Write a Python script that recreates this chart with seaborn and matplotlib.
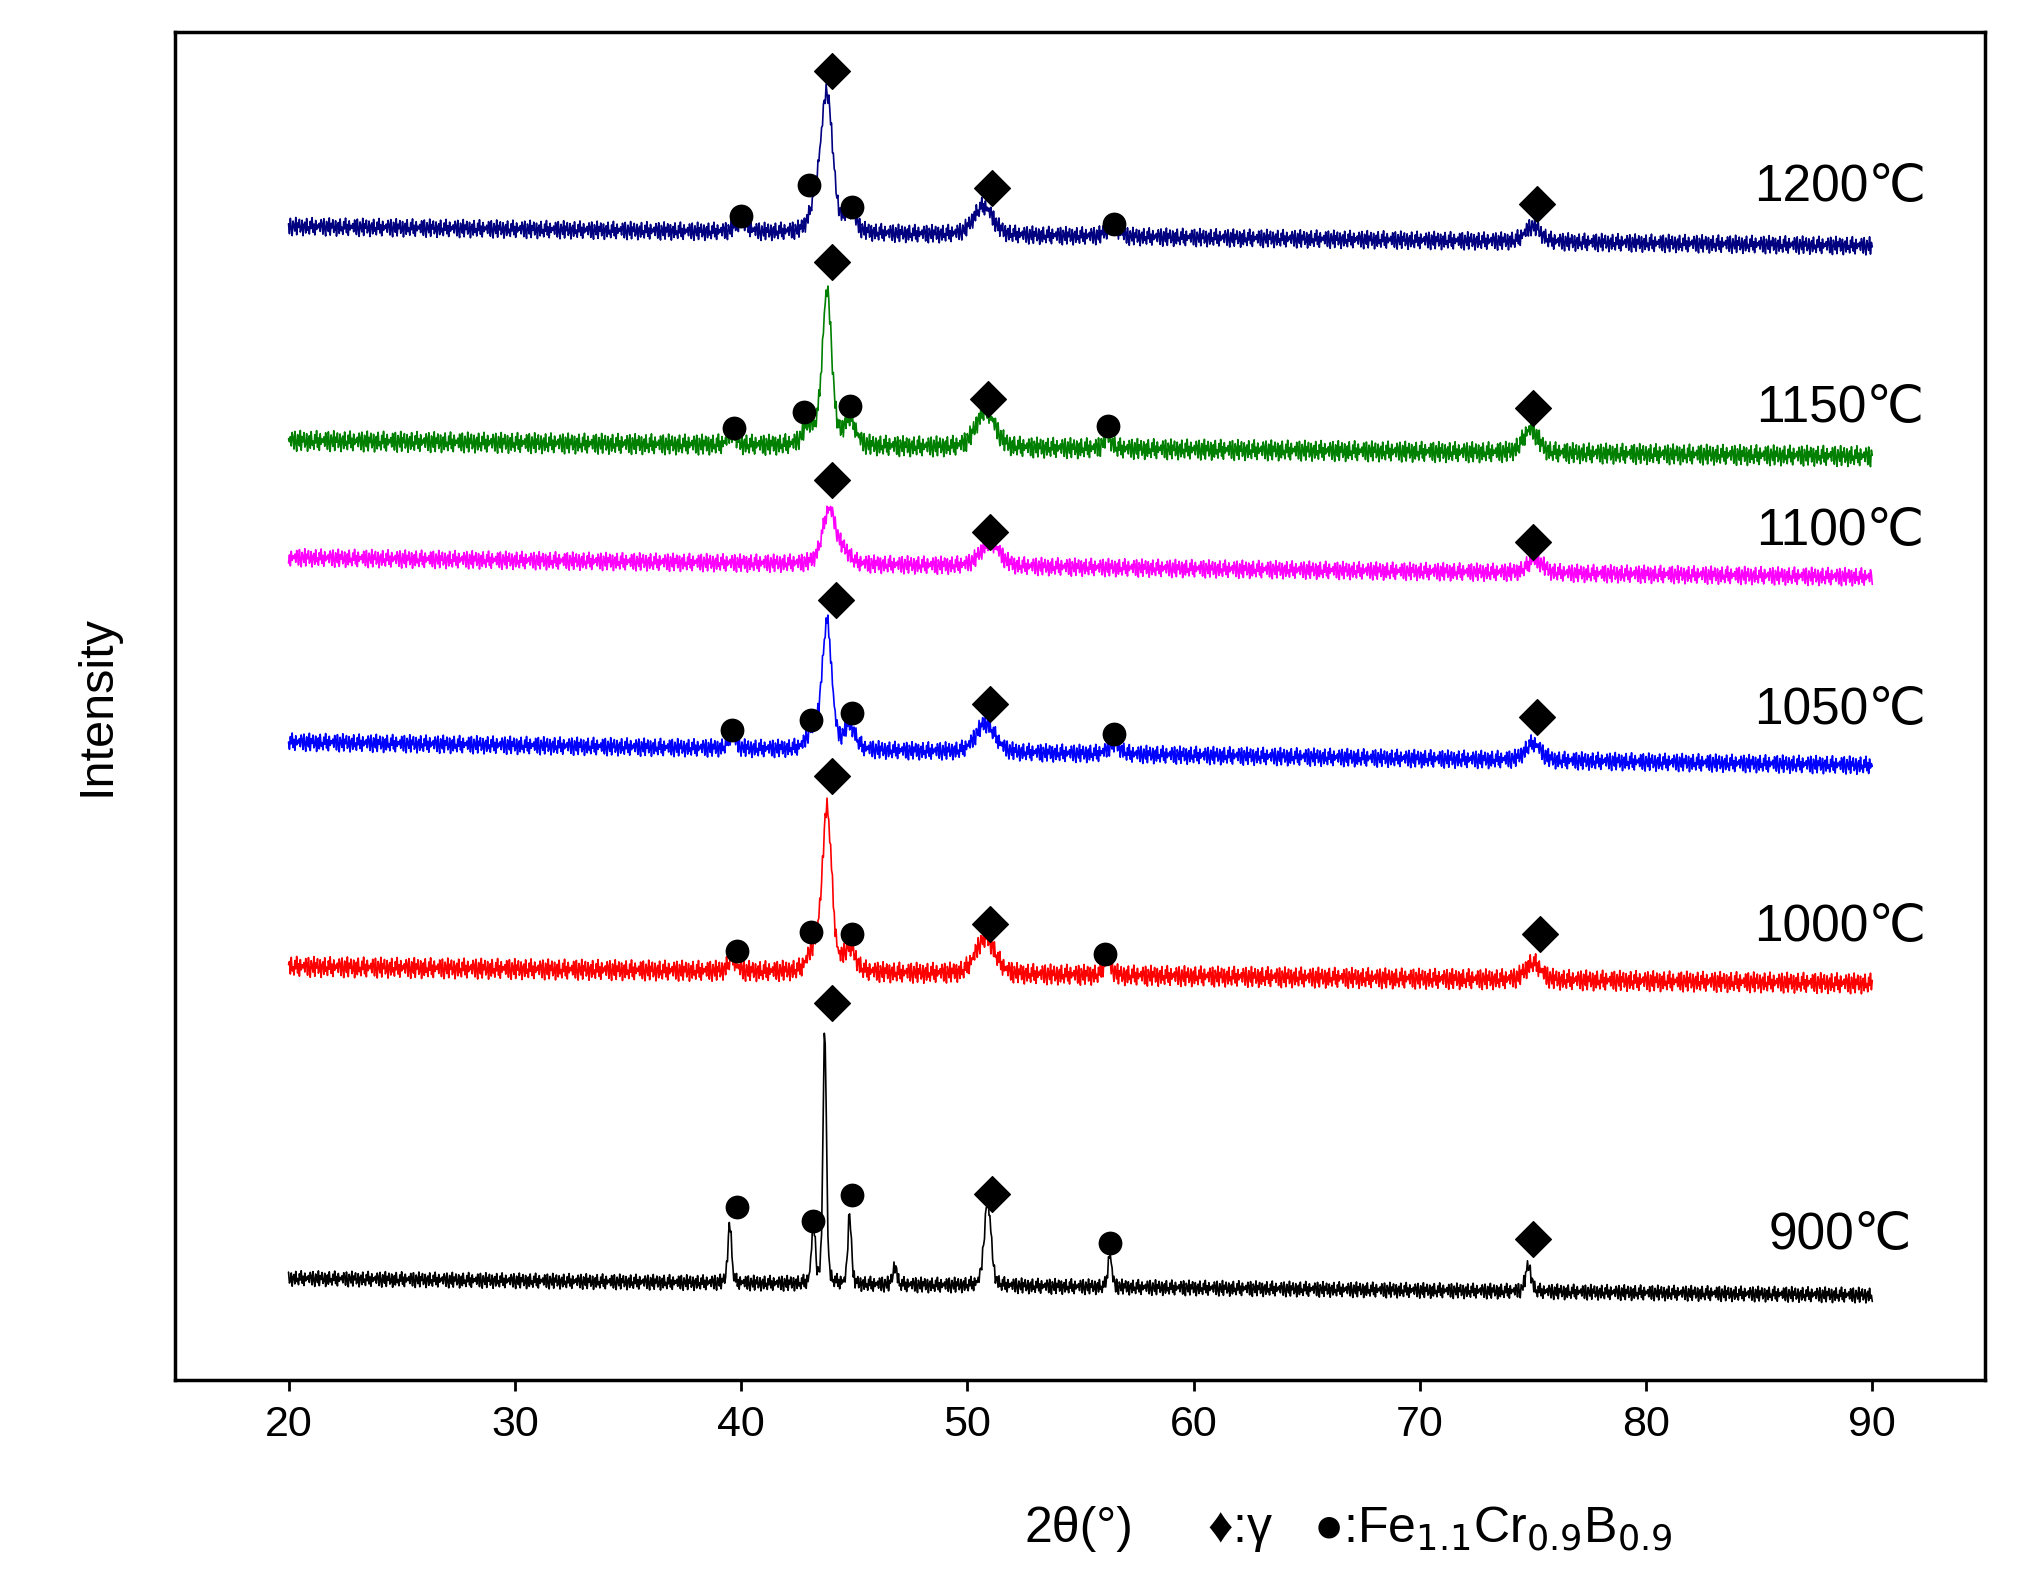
import numpy as np
import pandas as pd
import seaborn as sns
import matplotlib.pyplot as plt

sns.set_style("ticks")
plt.rcParams['font.family'] = ['Liberation Sans', 'DejaVu Sans']
plt.rcParams['axes.edgecolor'] = 'black'
plt.rcParams['xtick.color'] = 'black'
plt.rcParams['text.color'] = 'black'
plt.rcParams['axes.labelcolor'] = 'black'

# samples, offsets (baseline level at 20 deg and at 90 deg), colours
labels = ['1200℃', '1150℃', '1100℃', '1050℃', '1000℃', '900℃']
colors = ['#000080', '#008000', '#ff00ff', '#0000ff', '#ff0000', '#000000']
base_start = [1045, 880, 790, 648, 475, 235]
base_end = [1030, 868, 775, 630, 462, 222]
noise_amp = [7, 8, 7, 7, 8, 6]
label_y = [1075, 905, 810, 672, 505, 268]

# peaks per sample: position, height, half width
peak_pos = [
    [40.0, 43.3, 43.8, 44.8, 50.7, 56.4, 75.0],
    [39.6, 43.0, 43.8, 44.8, 50.8, 56.2, 74.9],
    [43.9, 44.6, 51.0, 75.1],
    [39.6, 43.2, 43.8, 44.8, 50.8, 56.5, 75.0],
    [39.6, 43.2, 43.8, 44.8, 50.8, 56.2, 75.0],
    [39.5, 43.2, 43.7, 44.8, 46.8, 50.9, 56.3, 74.8],
]
peak_h = [
    [8, 20, 105, 15, 22, 8, 12],
    [10, 15, 118, 20, 28, 10, 18],
    [42, 8, 18, 10],
    [10, 15, 97, 18, 22, 8, 13],
    [10, 15, 125, 18, 28, 12, 13],
    [45, 45, 195, 55, 15, 65, 25, 20],
]
peak_w = [
    [0.3, 0.3, 0.3, 0.3, 0.5, 0.3, 0.4],
    [0.2, 0.3, 0.25, 0.3, 0.5, 0.2, 0.4],
    [0.35, 0.3, 0.5, 0.4],
    [0.2, 0.3, 0.25, 0.3, 0.5, 0.3, 0.4],
    [0.2, 0.3, 0.25, 0.3, 0.5, 0.2, 0.4],
    [0.1, 0.1, 0.09, 0.09, 0.1, 0.18, 0.1, 0.15],
]
ripple = [0.3, -0.8, 0.9, -0.2, -1.0, 0.6, 0.1, -0.5, 1.0, -0.9, 0.4, -0.1,
          0.8, -0.6, -0.3, 0.7, -1.0, 0.2, 0.5, -0.7, 0.9, -0.4, 0.0, -0.8,
          0.6, -0.2, 1.0, -0.6, 0.3, -0.9, 0.7, -0.3, 0.2, -0.1, 0.4, -0.5, 0.8]

# marker annotations (x, y)
dia_x = [44.0, 51.1, 75.2, 44.0, 50.9, 75.0, 44.0, 51.0, 75.0, 44.2, 51.0, 75.2, 44.0, 51.0, 75.3, 44.0, 51.1, 75.0]
dia_y = [1165, 1075, 1062, 1018, 912, 905, 850, 810, 802, 757, 677, 667, 622, 508, 500, 447, 300, 265]
dot_x = [40.0, 43.0, 44.9, 56.5, 39.7, 42.8, 44.8, 56.2, 39.6, 43.1, 44.9, 56.5, 39.8, 43.1, 44.9, 56.1, 39.8, 43.2, 44.9, 56.3]
dot_y = [1053, 1077, 1060, 1047, 890, 902, 907, 891, 657, 665, 670, 654, 487, 502, 500, 485, 290, 279, 299, 262]

x = np.arange(20, 90.001, 0.04)
fig = plt.figure(figsize=(20.28, 15.84), dpi=100)
ax = fig.add_axes([0.0865, 0.129, 0.8925, 0.851])
for i in range(len(labels)):
    y = np.linspace(base_start[i], base_end[i], len(x))
    for p, h, w in zip(peak_pos[i], peak_h[i], peak_w[i]):
        lor = w**2 / ((x - p)**2 + w**2)
        gau = np.exp(-np.log(2) * (x - p)**2 / w**2)
        y = y + h * (0.3 * lor + 0.7 * gau)
    rp = np.resize(np.roll(ripple, 5 * i), len(x))
    y = y + noise_amp[i] * rp
    sns.lineplot(x=x, y=y, color=colors[i], lw=1.2, ax=ax, estimator=None, sort=False)
    ax.text(88.6, label_y[i], labels[i], fontsize=37, ha='center', va='center')

ax.scatter(dia_x, dia_y, marker='D', s=330, color='black', zorder=5)
ax.scatter(dot_x, dot_y, marker='o', s=260, color='black', zorder=5)

ax.set_xlim(15, 95)
ax.set_ylim(157, 1195)
ax.set_xticks(range(20, 91, 10))
ax.set_yticks([])
ax.tick_params(axis='x', labelsize=31, length=8, width=2, pad=10)
for s in ax.spines.values():
    s.set_linewidth(2.5)
ax.set_ylabel('Intensity', fontsize=35, labelpad=40)
fig.text(0.505, 0.035, '2θ(°)', fontsize=36, ha='left', va='center')
fig.text(0.595, 0.035, '♦:γ   ●:Fe$_{1.1}$Cr$_{0.9}$B$_{0.9}$', fontsize=36, ha='left', va='center')
fig.savefig('out.png', dpi=100)
